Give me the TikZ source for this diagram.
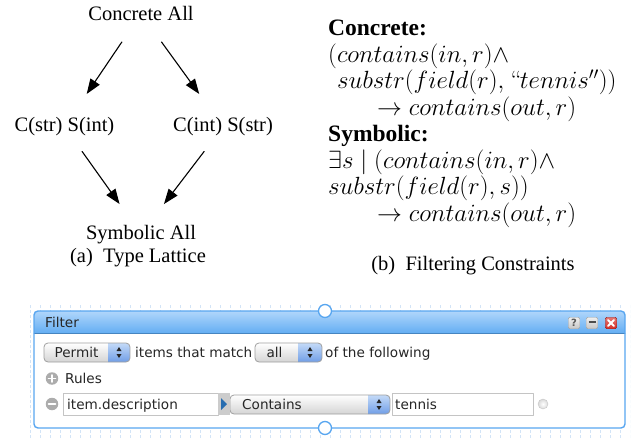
\documentclass[tikz,border=0pt]{standalone}
\usepackage{amsmath,amssymb}
\usepackage[no-math]{fontspec}
\setmainfont{Liberation Serif}
\newfontfamily\uifont{DejaVu Sans}
\usetikzlibrary{calc,arrows.meta}
\definecolor{winblue}{RGB}{88,166,240}
\definecolor{titletop}{RGB}{176,214,251}
\definecolor{titlebot}{RGB}{100,174,243}
\definecolor{gridblue}{RGB}{210,228,247}
\definecolor{dropgray}{RGB}{212,212,212}
\definecolor{dropbluetop}{RGB}{196,218,248}
\definecolor{dropbluebot}{RGB}{112,158,230}
\definecolor{fieldgray}{RGB}{196,196,196}
\definecolor{triblue}{RGB}{38,108,176}
\definecolor{closered}{RGB}{214,46,40}
\tikzset{
  every picture/.style={line cap=round,line join=round},
  lab/.style={font=\fontsize{20.5}{24}\selectfont,inner sep=0pt,anchor=base},
  formula/.style={font=\fontsize{24.5}{28}\selectfont,inner sep=0pt,
    anchor=base west},
  boldlab/.style={formula,font=\fontsize{23.5}{28}\selectfont\bfseries},
  latedge/.style={-{Triangle[length=15pt,width=11pt]},line width=1.1pt},
  uitext/.style={font=\uifont\fontsize{13.6}{16}\selectfont,text=black!85,
    inner sep=0pt,anchor=base west},
  gridline/.style={draw=gridblue,line width=.8pt,line cap=butt,
    dash pattern=on 3pt off 2pt},
  winframe/.style={draw=winblue,line width=1.4pt,rounded corners=4},
  dropbox/.style={draw=gray!75,line width=.8pt,rounded corners=4,inner sep=0pt},
  field/.style={draw=fieldgray,fill=white,line width=.9pt,inner sep=0pt},
  rulebtn/.style={circle,fill=gray!65,minimum size=12.5,inner sep=0pt},
  tbtn/.style={draw=gray!70,rounded corners=1.5,minimum size=11.5,inner sep=0pt,
    top color=gray!12,bottom color=gray!45},
  handle/.style={circle,draw=winblue,fill=white,line width=1.3pt,
    minimum size=13,inner sep=0pt}
}
\begin{document}
\begin{tikzpicture}[x=1pt,y=-1pt]
  \useasboundingbox (0,0) rectangle (641,439);

  % (a) the type lattice
  \node[lab] (concall) at (141,20.7) {Concrete All};
  \node[lab] (cstrsint) at (64.5,131.7) {C(str) S(int)};
  \node[lab] (cintsstr) at (223,131.7) {C(int) S(str)};
  \node[lab] (symall) at (141,239) {Symbolic All};
  \node[lab] (capa) at (138,262) {(a)\enspace Type Lattice};
  \draw[latedge] ($(concall)!.25!(cstrsint)$)--($(concall)!.71!(cstrsint)$);
  \draw[latedge] ($(concall)!.25!(cintsstr)$)--($(concall)!.71!(cintsstr)$);
  \draw[latedge] ($(cstrsint)!.23!(symall)$)--($(cstrsint)!.72!(symall)$);
  \draw[latedge] ($(cintsstr)!.23!(symall)$)--($(cintsstr)!.72!(symall)$);

  % (b) the two filtering constraints
  \node[boldlab] (conhead) at (328,35) {Concrete:};
  \node[formula] (con1) at (328,62) {$(contains(in,r)\wedge$};
  \node[formula] (con2) at (337,88.5) {$substr(field(r),``tennis''))$};
  \node[formula] (con3) at (377,115) {$\rightarrow contains(out,r)$};
  \node[boldlab] (symhead) at (328,141.5) {Symbolic:};
  \node[formula] (sym1) at (328,168) {$\exists s\mid(contains(in,r)\wedge$};
  \node[formula] (sym2) at (328,194.5) {$substr(field(r),s))$};
  \node[formula] (sym3) at (377,221) {$\rightarrow contains(out,r)$};
  \node[lab] (capb) at (473,270) {(b)\enspace Filtering Constraints};

  % Screenshot of the filter box on its grid
  \begin{scope}
    \clip (27,301) rectangle (630,438);
    \draw[gridline] (25,305) grid[step=10] (632,438);
  \end{scope}
  \fill[white,rounded corners=4] (34,311) rectangle (625,428);
  \begin{scope}
    \clip[rounded corners=4] (34,311) rectangle (625,428);
    \shade[top color=titletop,bottom color=titlebot] (34,311) rectangle (625,333);
  \end{scope}
  \draw[winblue!80!black,line width=.5pt] (34,333)--(625,333);
  \draw[winframe] (34,311) rectangle (625,428);
  \node[uitext] (wintitle) at (45,327.5) {Filter};
  \node[tbtn] (helpbtn) at (574,323)
    {\uifont\bfseries\fontsize{10}{10}\selectfont\textcolor{gray!70!black}{?}};
  \node[tbtn] (minbtn) at (592,323) {};
  \draw[black!70,line width=2pt,line cap=butt]
    ($(minbtn)+(-3.5,-1)$)--($(minbtn)+(3.5,-1)$);
  \node[tbtn,draw=closered!70!black,top color=closered!65,bottom color=closered]
    (closebtn) at (611,323) {};
  \draw[white,line width=1.8pt] ($(closebtn)+(-3,-3)$)--($(closebtn)+(3,3)$);
  \draw[white,line width=1.8pt] ($(closebtn)+(-3,3)$)--($(closebtn)+(3,-3)$);

  % drop-down menus with their blue steppers
  \foreach \name/\xa/\xb/\xc/\yc/\txt/\tx in {
    permit/44/108/130/352.5/Permit/76.5,
    matchall/255/298/322/352.5/all/274.5,
    contains/230/368/390/404.5/Contains/272}{
    \begin{scope}
      \clip[rounded corners=4] (\xa,\yc-9.5) rectangle (\xc,\yc+9.5);
      \shade[top color=white,bottom color=dropgray]
        (\xa,\yc-9.5) rectangle (\xb,\yc+9.5);
      \shade[top color=dropbluetop,bottom color=dropbluebot]
        (\xb,\yc-9.5) rectangle (\xc,\yc+9.5);
    \end{scope}
    \node[dropbox,minimum width={\xc-\xa},minimum height=19]
      (\name) at ({(\xa+\xc)/2},\yc) {};
    \fill[black!85] ({(\xb+\xc)/2-2.5},\yc-1.5)--++(5,0)--++(-2.5,-4)--cycle;
    \fill[black!85] ({(\xb+\xc)/2-2.5},\yc+1.5)--++(5,0)--++(-2.5,4)--cycle;
    \node[uitext,anchor=base] (\name-txt) at (\tx,\yc+4.5) {\txt};
  }
  \node[uitext] (itemsmatch) at (135,357) {items that match};
  \node[uitext] (following) at (325,357) {of the following};

  % rule rows
  \node[rulebtn] (addrule) at (52,378.5) {};
  \draw[white,line width=1.8pt] ($(addrule)+(-3.5,0)$)--($(addrule)+(3.5,0)$);
  \draw[white,line width=1.8pt] ($(addrule)+(0,-3.5)$)--($(addrule)+(0,3.5)$);
  \node[uitext] (rules) at (65,383.5) {Rules};
  \node[rulebtn] (delrule) at (52,404) {};
  \draw[white,line width=1.8pt] ($(delrule)+(-3.5,0)$)--($(delrule)+(3.5,0)$);
  \node[field,minimum width=155,minimum height=22] (descfield) at (140.5,404) {};
  \node[uitext] (desctxt) at (67,409) {item.description};
  \node[fill=gray!40,minimum width=12,minimum height=22,inner sep=0pt]
    (opbtn) at (224,404) {};
  \fill[triblue] ($(opbtn)+(-3,-6)$)--($(opbtn)+(3,0)$)--($(opbtn)+(-3,6)$)--cycle;
  \node[field,minimum width=141,minimum height=22] (valfield) at (462.5,404) {};
  \node[uitext] (valtxt) at (395,409) {tennis};
  \node[circle,draw=gray!45,inner color=white,outer color=gray!30,
    minimum size=10,inner sep=0pt] (rmbtn) at (543,404) {};

  % connection handles on the frame
  \node[handle] (tophandle) at (325,311) {};
  \node[handle] (bothandle) at (325,428) {};
\end{tikzpicture}
\end{document}
